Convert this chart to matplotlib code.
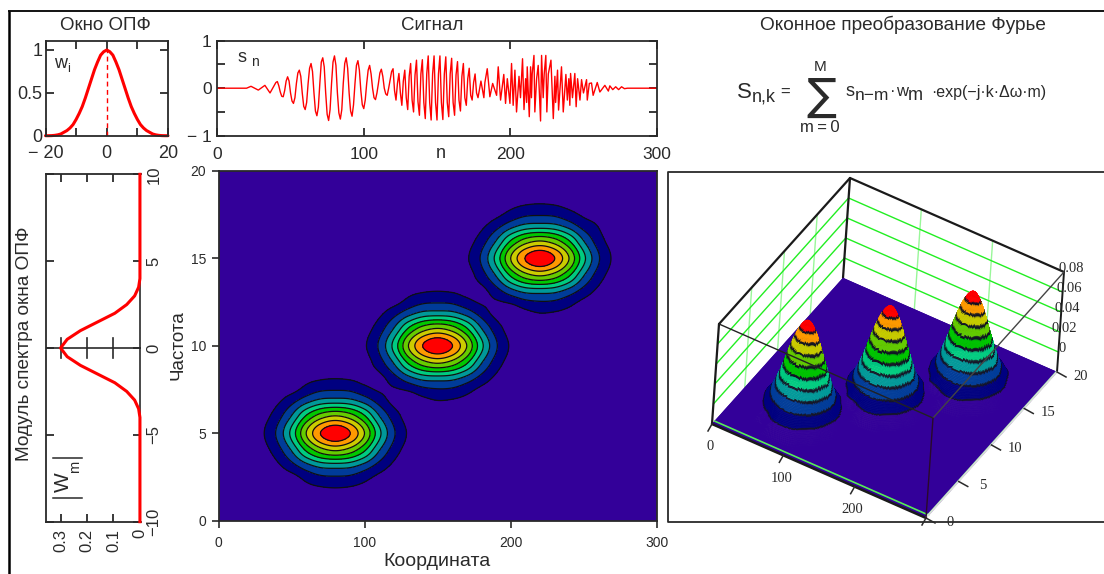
import numpy as np
import matplotlib
matplotlib.use("Agg")
import matplotlib.pyplot as plt
from matplotlib.collections import PolyCollection

plt.rcParams['font.family'] = ['Liberation Sans', 'DejaVu Sans']
W, H = 1104, 574
INK = '#2a2a2a'
RED = '#ff0000'

# ---------- data ----------
window_half = [1, .98, .94, .86, .77, .66, .55, .44, .34, .26, .19, .13, .09, .06, .04, .02, .01, .004, .001, 0, 0]
spec_freq = [-10, -4, -3.5, -3, -2.5, -2, -1.5, -1, -.5, 0, .5, 1, 1.5, 2, 2.5, 3, 3.5, 4, 10]
spec_mag = [0, 0, .005, .02, .05, .095, .16, .225, .275, .3, .275, .225, .16, .095, .05, .02, .005, 0, 0]

sig_start_n = [0, 20, 23, 28, 32.5, 36]
sig_start_v = [0, 0, .04, -.04, .06, -.10]
# one value per sample, n = 40 ... 178
sig_mid_v = [.12, .14, .05, -.08, -.17, -.18, -.05, .15, .24, .15, -.1, -.27, -.32, -.2, .1, .32, .38, .25, -.1, -.38,
             -.45, -.3, .1, .42, .52, .35, -.1, -.48, -.58, -.4, .1, .55, .64, .45, -.1, -.55, -.68, -.45, .1, .55,
             .68, .48, -.1, -.52, -.65, -.45, .1, .52, .64, .42, -.1, -.48, -.59, -.35, .1, .48, .58, .38, -.05, -.35,
             -.43, -.25, .1, .38, .48, .3, 0, -.2, -.24, -.1, .1, .32, .40, .25, 0, -.12, -.15, 0, .18, .35,
             .41, -.05, -.25, .1, .31, -.1, -.36, .15, .38, -.2, -.45, .25, .52, -.25, -.5, .28, .59, -.28, -.57, .3,
             .6, -.3, -.64, .3, .68, -.3, -.67, .3, .68, -.3, -.67, .3, .68, -.3, -.66, .3, .66, -.3, -.6, .3,
             .63, -.3, -.57, .28, .56, -.25, -.48, .25, .52, -.2, -.36, .2, .42, -.15, -.25, .12, .3, -.1, -.2]
sig_end_n = [180, 182, 182.7, 184.3, 186.1, 188, 190.7, 191.8, 193.4, 195.6, 196.8, 198, 199.8, 200.9, 202, 203.2, 204.3,
             206, 207, 208.4, 209.4, 210.5, 211.2, 211.6, 213, 213.9, 214.5, 215, 216.2, 216.8, 218, 219.1, 220.7, 221.4,
             222.5, 223.2, 224.3, 225, 226, 227.8, 229.4, 230.5, 231, 232.3, 233, 235, 236.2, 238, 239, 240, 240.7, 241.2,
             242.5, 244.1, 245, 246, 247.6, 248.7, 250, 252.1, 252.6, 254, 255.5, 256.6, 259.4, 261.2, 264.6, 267, 268, 270,
             272, 274, 276, 278, 280, 300]
sig_end_v = [.15, -.2, .12, .41, -.18, .1, -.15, .45, -.25, .29, -.32, .2, -.32, .52, -.36, .38, -.5,
             .25, -.2, .62, -.45, .2, -.3, .45, -.6, .45, -.2, .3, .69, -.5, .2, .48, -.69, .69,
             -.2, .3, .69, -.5, .3, .59, -.64, .25, -.3, .38, -.46, .45, -.5, .29, -.25, .2, -.36, .31,
             -.2, .31, -.39, .2, -.25, .18, -.1, .18, -.25, .1, .11, -.15, .12, -.08, .06, -.06, .05, -.03,
             .03, -.03, .03, -.01, 0, 0]

field_x = list(range(0, 301, 10))
field_y = list(range(0, 21))
field_thousandths = [
 [0]*31,
 [0]*31,
 [0,0,0,0,0,0,7,10,11,10,7,2,0,0,0,0,0,0,0,0,0,0,0,0,0,0,0,0,0,0,0],
 [0,0,0,0,6,13,21,27,28,27,21,13,6,0,0,0,0,0,0,0,0,0,0,0,0,0,0,0,0,0,0],
 [0,0,0,5,14,28,47,60,65,60,47,28,14,5,0,0,0,0,0,0,0,0,0,0,0,0,0,0,0,0,0],
 [0,0,0,8,20,40,65,84,92,84,65,40,20,8,0,0,0,0,0,0,0,0,0,0,0,0,0,0,0,0,0],
 [0,0,0,5,14,28,47,60,65,60,47,28,14,5,0,0,0,0,0,0,0,0,0,0,0,0,0,0,0,0,0],
 [0,0,0,0,6,13,21,27,28,27,21,13,6,4,8,11,10,7,2,0,0,0,0,0,0,0,0,0,0,0,0],
 [0,0,0,0,0,0,7,10,11,10,7,6,13,21,27,28,27,21,13,6,0,0,0,0,0,0,0,0,0,0,0],
 [0,0,0,0,0,0,0,0,0,0,5,14,28,47,60,65,60,47,28,14,5,0,0,0,0,0,0,0,0,0,0],
 [0,0,0,0,0,0,0,0,0,0,8,20,40,65,84,92,84,65,40,20,8,0,0,0,0,0,0,0,0,0,0],
 [0,0,0,0,0,0,0,0,0,0,5,14,28,47,60,65,60,47,28,14,5,0,0,0,0,0,0,0,0,0,0],
 [0,0,0,0,0,0,0,0,0,0,0,6,13,21,27,28,27,21,13,6,4,8,11,10,7,2,0,0,0,0,0],
 [0,0,0,0,0,0,0,0,0,0,0,0,0,7,10,11,10,7,6,13,21,27,28,27,21,13,6,0,0,0,0],
 [0,0,0,0,0,0,0,0,0,0,0,0,0,0,0,0,0,5,14,28,47,60,65,60,47,28,14,5,0,0,0],
 [0,0,0,0,0,0,0,0,0,0,0,0,0,0,0,0,0,8,20,40,65,84,92,84,65,40,20,8,0,0,0],
 [0,0,0,0,0,0,0,0,0,0,0,0,0,0,0,0,0,5,14,28,47,60,65,60,47,28,14,5,0,0,0],
 [0,0,0,0,0,0,0,0,0,0,0,0,0,0,0,0,0,0,6,13,21,27,28,27,21,13,8,0,0,0,0],
 [0,0,0,0,0,0,0,0,0,0,0,0,0,0,0,0,0,0,0,2,7,10,11,10,7,4,2,0,0,0,0],
 [0]*31,
 [0]*31,
]
band_levels = [0, 9.3, 18.6, 27.9, 37.2, 46.5, 55.8, 65.1, 74.4, 83.7, 100]
band_colors = ['#330099', '#000080', '#003c99', '#009999', '#00cc80', '#00c800',
               '#66cc00', '#cccc00', '#ff9900', '#ff0000']

sig_n = list(sig_start_n) + list(range(40, 179)) + list(sig_end_n)
sig_v = list(sig_start_v) + list(sig_mid_v) + list(sig_end_v)


def ax_px(l, t, r, b):
    return fig.add_axes([l / W, 1 - b / H, (r - l) / W, (b - t) / H])


def frame(ax, lw=1.3):
    for s in ax.spines.values():
        s.set_linewidth(lw)
        s.set_color(INK)


def smooth_resample(new, old, vals):
    """Catmull-Rom resampling of a uniformly spaced column (rendering only)."""
    vals = np.asarray(vals, float)
    h = old[1] - old[0]
    i = np.clip(((new - old[0]) / h).astype(int), 0, len(old) - 2)
    t = (new - old[i]) / h
    idx = lambda k: np.clip(k, 0, len(old) - 1)
    p0, p1, p2, p3 = vals[idx(i - 1)], vals[i], vals[idx(i + 1)], vals[idx(i + 2)]
    return 0.5 * (2 * p1 + (p2 - p0) * t + (2 * p0 - 5 * p1 + 4 * p2 - p3) * t ** 2 + (3 * p1 - p0 - 3 * p2 + p3) * t ** 3)


fig = plt.figure(figsize=(W / 100, H / 100), dpi=100)
ov = fig.add_axes([0, 0, 1, 1], zorder=5)
ov.set_xlim(0, W)
ov.set_ylim(H, 0)
ov.axis('off')


def T(x, y, s, size=11, ha='center', va='center', rot=0, fam=None, **kw):
    ov.text(x, y, s, fontsize=size, ha=ha, va=va, rotation=rot, color=INK,
            family=fam if fam else ['Liberation Sans', 'DejaVu Sans'], **kw)


# outer frame
ov.plot([9, 9], [574, 11], color='k', lw=1.8, solid_capstyle='butt')
ov.plot([8, 1104], [11, 11], color='k', lw=1.3, solid_capstyle='butt')

# ---------- window ----------
a = ax_px(45.5, 41, 168, 135.7)
frame(a)
wx = np.arange(-20, 21)
wy = np.concatenate([window_half[:0:-1], window_half])
a.plot(wx, wy, color=RED, lw=2.2, clip_on=False, solid_capstyle='round')
a.plot([0, 0], [0, 1], color=RED, lw=1, ls=(0, (3.5, 2.5)))
a.set_xlim(-20, 20)
a.set_ylim(0, 1.105)
a.set_xticks([-20, -10, 0, 10, 20])
a.set_xticklabels(['\u2212 20', '', '0', '', '20'])
a.set_yticks([0, .5, 1])
a.set_yticklabels(['0', '0.5', '1'])
a.tick_params(direction='in', length=6, width=1.3, top=True, right=True, labelsize=13,
              color=INK, labelcolor=INK, pad=2)
a.tick_params(axis='x', pad=7)
T(105, 25, 'Окно ОПФ', 13.5)
T(54, 63, 'w', 13, ha='left')
T(67, 69, 'i', 9, ha='left')

# ---------- signal ----------
a = ax_px(217.3, 40.7, 656.7, 135.7)
frame(a)
a.plot(sig_n, sig_v, color=RED, lw=1)
a.set_xlim(0, 300)
a.set_ylim(-1, 1)
a.set_xticks([0, 100, 200, 300])
a.set_yticks([-1, -.5, 0, .5, 1])
a.set_yticklabels(['\u2212 1', '', '0', '', '1'])
a.tick_params(direction='in', length=6, width=1.3, top=True, right=True, labelsize=12.5,
              color=INK, labelcolor=INK, pad=4)
a.tick_params(axis='x', pad=8)
T(432, 25, 'Сигнал', 13.5)
T(441, 154, 'n', 13)
T(238, 57, 's', 13, ha='left')
T(251, 62, 'n', 10, ha='left')

# ---------- window spectrum ----------
a = ax_px(45.5, 174.3, 141, 521.7)
frame(a)
a.spines['right'].set_visible(False)
a.plot(spec_mag, spec_freq, color=RED, lw=2.2, clip_on=False, zorder=4)
a.axhline(0, color=INK, lw=1.2)
a.plot([0, 0], [-4, 4], color=INK, lw=1.2)
a.set_xlim(.357, -.004)
a.set_ylim(-10, 10)
a.set_xticks([.3, .2, .1, 0])
a.set_xticklabels(['0.3', '0.2', '0.1', '0'], rotation=90)
a.set_yticks([-10, -5, 0, 5, 10])
a.set_yticklabels(['\u221210', '\u22125', '0', '5', '10'], rotation=90, va='center')
a.yaxis.tick_right()
a.tick_params(axis='x', direction='in', length=6, width=1.3, top=True, labelsize=12, color=INK, labelcolor=INK, pad=5)
a.tick_params(axis='y', direction='in', length=6, width=1.3, left=True, labelsize=12, color=INK, labelcolor=INK, pad=4)
for xt in [.1, .2, .3]:
    a.plot([xt, xt], [-.55, .55], color=INK, lw=1.2)
T(25, 344, 'Модуль спектра окна ОПФ', 13.7, rot=90)
T(63, 482, 'W', 15, rot=90)
T(75, 467, 'm', 10.5, rot=90)
ov.plot([53, 82], [498, 498], color=INK, lw=1.1)
ov.plot([53, 82], [458, 458], color=INK, lw=1.1)

# ---------- contour map ----------
a = ax_px(218.5, 171, 656.7, 520.7)
frame(a)
fx = np.asarray(field_x, float)
fy = np.asarray(field_y, float)
field = np.asarray(field_thousandths, float)
gx = np.linspace(0, 300, 301)
gy = np.linspace(0, 20, 401)
tmp = np.array([smooth_resample(gx, fx, row) for row in field])
Z = np.array([smooth_resample(gy, fy, col) for col in tmp.T]).T
Z = np.clip(Z, 0, 99)
a.contourf(gx, gy, Z, levels=band_levels, colors=band_colors)
a.contour(gx, gy, Z, levels=band_levels[1:-1], colors='#101010', linewidths=0.9)
a.set_xlim(0, 300)
a.set_ylim(0, 20)
a.set_xticks([0, 100, 200, 300])
a.set_yticks([0, 5, 10, 15, 20])
a.tick_params(direction='out', length=5, width=1.2, labelsize=10, color=INK, labelcolor=INK, pad=6)
a.tick_params(axis='y', pad=4)
T(437, 562, 'Координата', 14)
T(178, 345, 'Частота', 13.5, rot=90)

# ---------- 3-D view (parallel projection onto the overlay) ----------
O = np.array([712., 424.])
UX = np.array([214., 94.]) / 300
UY = np.array([131., -146.]) / 20
UZ = np.array([7., -100.]) / 100


def P(x, y, z=0.):
    x, y, z = np.asarray(x, float), np.asarray(y, float), np.asarray(z, float)
    return (O[0] + x * UX[0] + y * UY[0] + z * UZ[0], O[1] + x * UX[1] + y * UY[1] + z * UZ[1])


def L(p, q, **kw):
    kw.setdefault('solid_capstyle', 'round')
    ov.plot([P(*p)[0], P(*q)[0]], [P(*p)[1], P(*q)[1]], **kw)


ov.plot([1104, 668, 668, 1104], [172, 172, 522, 522], color=INK, lw=1.3)

GREEN = '#22ee22'
LG = '#99f799'
for y in (5, 10, 15):
    L((0, y, 0), (0, y, 100), color=LG, lw=1, zorder=1)
for x in (100, 200):
    L((x, 20, 0), (x, 20, 100), color=LG, lw=1, zorder=1)
for z in (20, 40, 60, 80):
    L((0, 0, z), (0, 20, z), color=GREEN, lw=1, zorder=1)
    L((0, 20, z), (300, 20, z), color=GREEN, lw=1, zorder=1)
L((0, 0, 0), (0, 0, 100), color='#1a1a1a', lw=1.6, zorder=2)
L((0, 20, 0), (0, 20, 100), color='#1a1a1a', lw=1.6, zorder=2)
L((300, 20, 0), (300, 20, 100), color='#1a1a1a', lw=1.4, zorder=2)
L((0, 0, 100), (0, 20, 100), color='#1a1a1a', lw=1.6, zorder=2)
L((0, 20, 100), (300, 20, 100), color='#1a1a1a', lw=1.6, zorder=2)

# surface: back to front
ny = len(gy) - 1
ix = np.arange(300)
iy = np.arange(ny - 1, -1, -1)
jj, ii = np.meshgrid(ix, iy)
jj, ii = jj.ravel(), ii.ravel()
xs = np.stack([gx[jj], gx[jj + 1], gx[jj + 1], gx[jj]], 1)
ys = np.stack([gy[ii], gy[ii], gy[ii + 1], gy[ii + 1]], 1)
zs = np.stack([Z[ii, jj], Z[ii, jj + 1], Z[ii + 1, jj + 1], Z[ii + 1, jj]], 1)
px, py = P(xs, ys, zs)
verts = np.stack([px, py], 2)
lev = np.asarray(band_levels)
lo = np.clip(np.digitize(zs.min(1), lev) - 1, 0, 9)
hi = np.clip(np.digitize(zs.max(1), lev) - 1, 0, 9)
cols = np.array([matplotlib.colors.to_rgba(c) for c in band_colors])[lo]
cols[lo != hi] = (0.07, 0.07, 0.14, 1)
ov.add_collection(PolyCollection(verts, facecolors=cols, edgecolors=cols, linewidths=0.3, zorder=3))

L((0, .4, 0), (300, .4, 0), color='#55ee55', lw=1.2, zorder=4)
L((299, 0, 0), (299, 20, 0), color='#bbf5bb', lw=1, zorder=4)
L((0, 0, 0), (300, 0, 0), color='#1a1a1a', lw=1.8, zorder=5)
L((300, 0, 0), (300, 20, 0), color='#dddddd', lw=1, zorder=5)
L((0, 0, 100), (300, 0, 100), color='#222222', lw=1, zorder=6)
L((300, 0, 100), (300, 20, 100), color='#444444', lw=1, zorder=6)
L((300, 0, 0), (300, 0, 100), color='#2a0a2a', lw=1, zorder=6)

serif = ['Liberation Serif', 'DejaVu Serif']
for x, lab in zip((0, 100, 200, 300), ('0', '100', '200', '')):
    X, Y = P(x, 0, 0)
    ov.plot([X, X - 4], [Y, Y + 7], color=INK, lw=1.1, zorder=5)
    if lab:
        T(X - 2, Y + 23, lab, 10.5, fam=serif)
for y, lab in zip((0, 5, 10, 15, 20), ('0', '5', '10', '15', '20')):
    X, Y = P(300, y, 0)
    ov.plot([X, X + 9], [Y, Y + 5], color=INK, lw=1.1, zorder=5)
    T(X + 24, Y + 4, lab, 10.5, fam=serif)
for z, lab in zip((0, 20, 40, 60, 80), ('0', '0.02', '0.04', '0.06', '0.08')):
    T(1062 + z * .12, 349 - z, lab, 10.5, fam=serif, ha='center')

# ---------- formula ----------
T(903, 25, 'Оконное преобразование Фурье', 13.7)
T(737, 92, 'S', 16, ha='left')
T(752, 97, 'n,k', 13, ha='left')
T(780, 92, '=', 12, ha='left')
T(821, 97, '\u2211', 32, fam=['DejaVu Sans'])
T(820, 67, 'M', 11)
T(820, 127, 'm\u2009=\u20090', 12)
T(846, 92, 's', 13, ha='left')
T(855, 96, 'n\u2212m', 12.5, ha='left')
T(890, 92, '\u00b7', 12, ha='left')
T(896, 92, 'w', 12, ha='left')
T(908, 96, 'm', 13, ha='left')
T(931, 92, '\u00b7exp(\u2212j\u00b7k\u00b7\u0394\u03c9\u00b7m)', 11.5, ha='left')

fig.savefig('out.png', dpi=100)
